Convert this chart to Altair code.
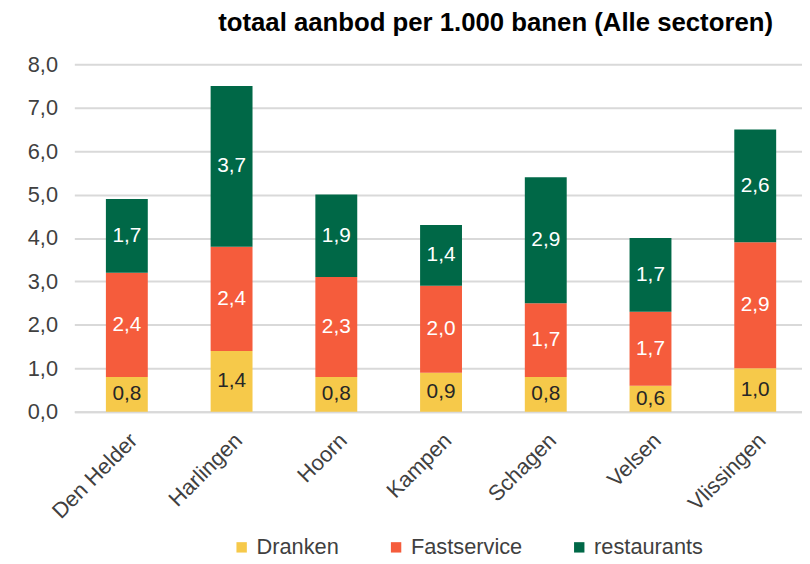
import altair as alt
import pandas as pd

cities = ["Den Helder", "Harlingen", "Hoorn", "Kampen", "Schagen", "Velsen", "Vlissingen"]
series = ["Dranken", "Fastservice", "restaurants"]
dranken = [0.8, 1.4, 0.8, 0.9, 0.8, 0.6, 1.0]
fastservice = [2.4, 2.4, 2.3, 2.0, 1.7, 1.7, 2.9]
restaurants = [1.7, 3.7, 1.9, 1.4, 2.9, 1.7, 2.6]
colors = ["#F6C94A", "#F55C3C", "#006847"]
y_ticks = [0, 1, 2, 3, 4, 5, 6, 7, 8]

rows = []
for vals, s, o in [(dranken, series[0], 0), (fastservice, series[1], 1), (restaurants, series[2], 2)]:
    for c, v in zip(cities, vals):
        rows.append({"city": c, "series": s, "order": o, "value": v})
df = pd.DataFrame(rows)

FONT = "Liberation Sans"

base = alt.Chart(df).transform_stack(
    stack="value", groupby=["city"], as_=["y0", "y1"],
    sort=[alt.SortField("order", order="ascending")]
).transform_calculate(
    mid="(datum.y0 + datum.y1) / 2",
    label="replace(format(datum.value, '.1f'), '.', ',')"
)

x_enc = alt.X("city:N", sort=cities, title=None,
              scale=alt.Scale(paddingInner=0.6, paddingOuter=0.274, align=0.55),
              axis=alt.Axis(labelAngle=-45, labelFontSize=22, labelColor="#404040",
                            labelFont=FONT, ticks=False, domainColor="#D9D9D9",
                            domainWidth=2, labelPadding=18, grid=False))

bars = base.mark_bar().encode(
    x=x_enc,
    y=alt.Y("y0:Q", title=None, scale=alt.Scale(domain=[0, 8]),
            axis=alt.Axis(values=y_ticks, labelExpr="replace(format(datum.value, '.1f'), '.', ',')",
                          labelFontSize=22, labelColor="#404040", labelFont=FONT,
                          ticks=False, domain=False, gridColor="#D9D9D9", gridWidth=2,
                          labelPadding=17)),
    y2="y1:Q",
    color=alt.Color("series:N", scale=alt.Scale(domain=series, range=colors),
                    legend=alt.Legend(orient="none", legendX=158, legendY=477,
                                      direction="horizontal", title=None,
                                      symbolType="square", symbolSize=110,
                                      labelFontSize=22, labelFont=FONT, labelColor="#404040",
                                      columnPadding=46, labelOffset=4)),
)

texts = base.mark_text(fontSize=21, font=FONT, baseline="middle").encode(
    x=alt.X("city:N", sort=cities),
    y=alt.Y("mid:Q"),
    text="label:N",
    color=alt.condition(alt.datum.series == "Dranken", alt.value("#262626"), alt.value("white")),
)

chart = alt.layer(bars, texts).properties(
    width=735, height=351,
    title=alt.TitleParams("totaal aanbod per 1.000 banen (Alle sectoren)", fontSize=26,
                          font=FONT, fontWeight="bold", color="#000000",
                          anchor="middle", dx=58, offset=18),
    autosize=alt.AutoSizeParams(type="none"),
    padding={"left": 67, "top": 54, "right": 0, "bottom": 150},
).configure_view(stroke=None)

chart.save("out.html", embed_options={"renderer": "svg", "actions": False})
